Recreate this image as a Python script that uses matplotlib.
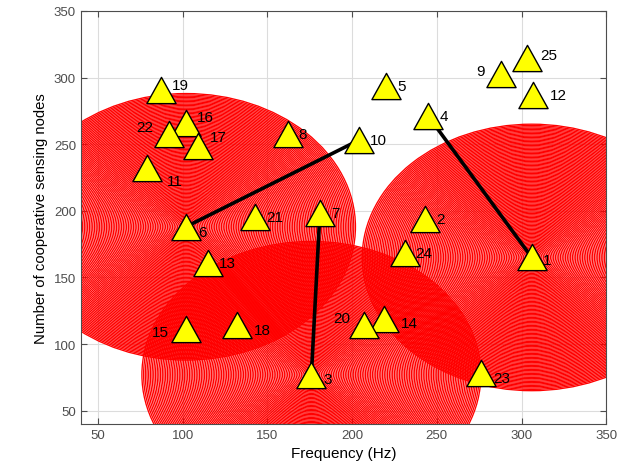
import matplotlib
matplotlib.use("Agg")
import matplotlib.pyplot as plt
import numpy as np
from matplotlib.patches import Circle
from matplotlib.collections import PatchCollection
from matplotlib.path import Path

plt.rcParams['font.family'] = ['Liberation Sans', 'DejaVu Sans']

# node positions (frequency, number of cooperative sensing nodes)
node_id = list(range(1, 26))
node_x = [306, 243, 176, 245, 220, 102, 181, 162, 288, 204,
          79, 307, 115, 219, 102, 102, 109, 132, 87, 207,
          143, 92, 276, 231, 303]
node_y = [165, 194, 77, 271, 294, 188, 198, 258, 303, 253,
          232, 287, 161, 119, 111, 266, 249, 114, 291, 114,
          195, 258, 78, 168, 315]

# cluster heads and coverage radius
heads = [6, 1, 3]
radius = 100

# links: (from node, to node)
links = [(10, 6), (4, 1), (7, 3)]

# label offsets in points (style only)
lab_off = {i: (8, 0) for i in node_id}
lab_off.update({11: (14, -9), 6: (9, -4), 16: (8, 4), 17: (9, 6),
                19: (8, 3), 3: (9, -3), 23: (9, -3), 1: (8, -2),
                25: (10, 2), 12: (12, 0), 14: (12, -3), 18: (12, -3)})
left_lab = {22: (-11, 5), 9: (-12, 2), 15: (-12, -2), 20: (-10, 5)}

fig = plt.figure(figsize=(6.27, 4.77), dpi=100)
ax = fig.add_axes([0.129, 0.109, 0.838, 0.866])

# concentric rings around each cluster head
rings = []
for h in heads:
    cx, cy = node_x[h - 1], node_y[h - 1]
    for r in np.arange(1, radius + 1, 1.0):
        rings.append(Circle((cx, cy), r))
pc = PatchCollection(rings, facecolor='none', edgecolor='red', linewidth=0.95, zorder=1)
ax.add_collection(pc)

for a, b in links:
    ax.plot([node_x[a - 1], node_x[b - 1]], [node_y[a - 1], node_y[b - 1]],
            color='black', linewidth=2.6, zorder=2)

tri = Path([(0, 0.9), (-1, -0.9), (1, -0.9), (0, 0.9)],
           [Path.MOVETO, Path.LINETO, Path.LINETO, Path.CLOSEPOLY])
ax.plot(node_x, node_y, linestyle='none', marker=tri, markersize=21,
        markerfacecolor='yellow', markeredgecolor='black', markeredgewidth=1, zorder=3)

for i, x, y in zip(node_id, node_x, node_y):
    if i in left_lab:
        ax.annotate(str(i), (x, y), xytext=left_lab[i], textcoords='offset points',
                    fontsize=11, va='center', ha='right', zorder=4)
    else:
        ax.annotate(str(i), (x, y), xytext=lab_off[i], textcoords='offset points',
                    fontsize=11, va='center', ha='left', zorder=4)

ax.set_xlim(40, 350)
ax.set_ylim(40, 350)
ax.set_xticks(np.arange(50, 351, 50))
ax.set_yticks(np.arange(50, 351, 50))
ax.grid(True, color='#dcdcdc', linewidth=0.8, zorder=0)
ax.set_axisbelow(True)
ax.tick_params(direction='in', top=True, right=True, labelsize=9.5,
               labelcolor='#4d4d4d', color='#4d4d4d', length=4)
for s in ax.spines.values():
    s.set_color('#4d4d4d')
ax.set_xlabel('Frequency (Hz)', fontsize=11)
ax.set_ylabel('Number of cooperative sensing nodes', fontsize=10.7)

fig.savefig('out.png', dpi=100)
